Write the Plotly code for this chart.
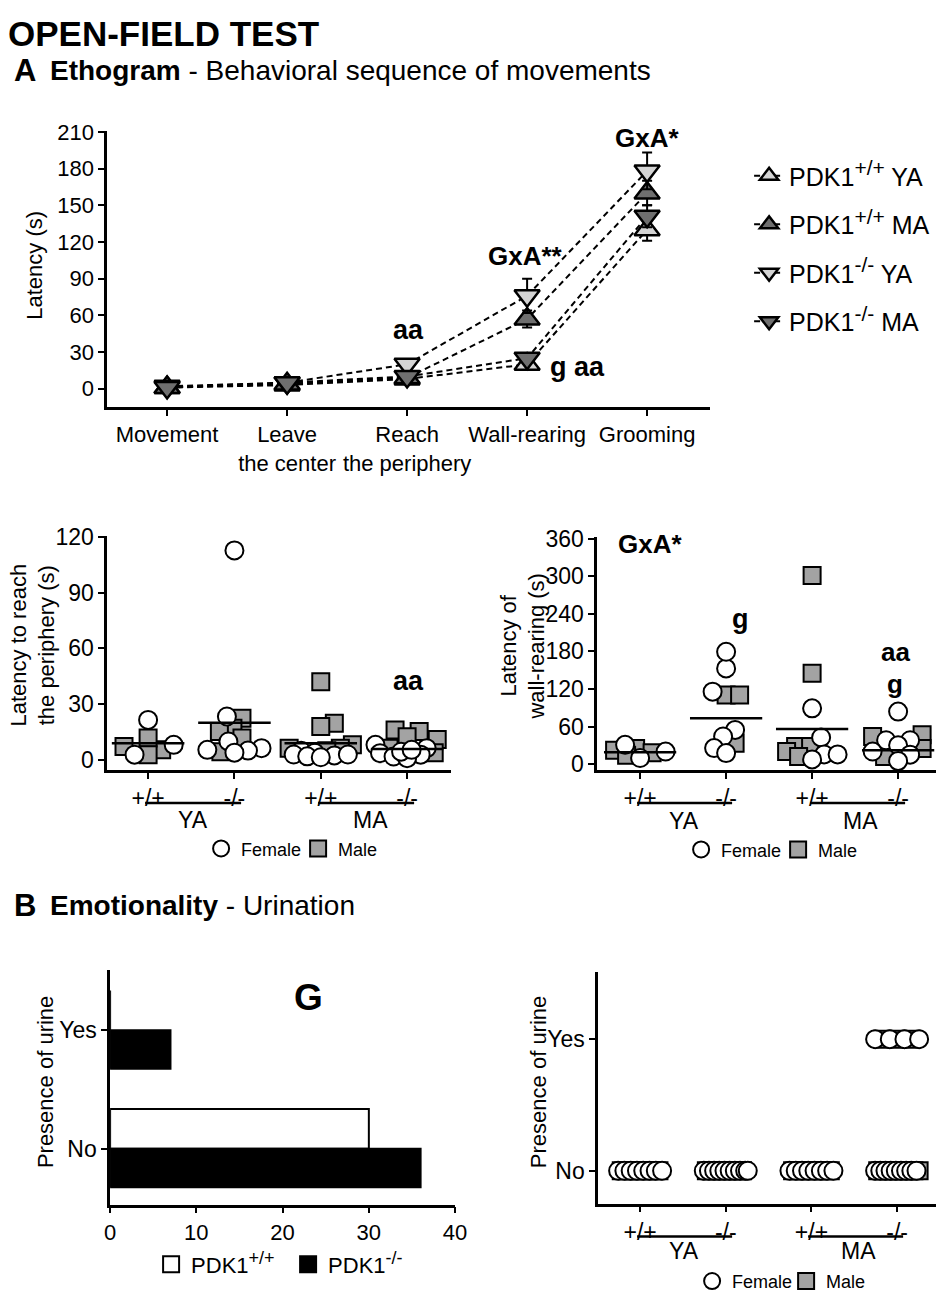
import numpy as np
import plotly.graph_objects as go

W, H = 948, 1300
FONT = "Liberation Sans, Arial, sans-serif"

# the photographed page is slightly scaled/offset; positions below are given in
# picture pixels and converted to page pixels here
SX, OX = 0.981, 5.9
SY, OY = 0.9855, 11.5


def pgx(t):
    return (t - OX) / SX


def pgy(t):
    return (t - OY) / SY


def X(t):
    return min(max(pgx(t) / W, 0.0), 1.0)


def Y(t):
    return min(max(1 - pgy(t) / H, 0.0), 1.0)


def lin_x(t_lo, t_hi, ta, va, tb, vb):
    d0, d1 = X(t_lo), X(t_hi)
    t0, t1 = OX + SX * d0 * W, OX + SX * d1 * W
    f = lambda t: va + (t - ta) * (vb - va) / (tb - ta)
    return dict(domain=[d0, d1], range=[f(t0), f(t1)])


def lin_y(t_bot, t_top, ta, va, tb, vb):
    d0, d1 = Y(t_bot), Y(t_top)
    t0, t1 = OY + SY * (1 - d0) * H, OY + SY * (1 - d1) * H
    f = lambda t: va + (t - ta) * (vb - va) / (tb - ta)
    return dict(domain=[d0, d1], range=[f(t0), f(t1)])


# ------------------------------------------------------------------ data
etho_steps = ["Movement", "Leave<br>the center", "Reach<br>the periphery",
              "Wall-rearing", "Grooming"]
SUP = '<sup><span style="font-size:21px">{}</span></sup>'
SUP2 = '<sup><span style="font-size:18px">{}</span></sup>'
etho_names = ["PDK1" + SUP.format("+/+") + " YA", "PDK1" + SUP.format("+/+") + " MA",
              "PDK1" + SUP.format("-/-") + " YA", "PDK1" + SUP.format("-/-") + " MA"]
etho_wt_ya = [1, 3, 8, 20, 130]
etho_wt_ma = [1, 4, 9, 57, 160]
etho_ko_ya = [2, 5, 20, 76, 178]
etho_ko_ma = [1, 5, 10, 25, 141]
etho_wt_ya_sem = [1, 1, 2, 3, 9]
etho_wt_ma_sem = [1, 1, 2, 7, 10]
etho_ko_ya_sem = [1, 1, 3, 14, 15]
etho_ko_ma_sem = [1, 1, 2, 4, 9]

genotype_ticks = ["+/+", "-/-", "+/+", "-/-"]
age_groups = ["YA", "MA"]

reach_female = [[21.6, 8.2, 2.9],
                [112.7, 23.4, 10.0, 6.4, 5.5, 5.1, 4.0],
                [5.0, 4.0, 3.0, 2.5, 2.0, 3.0, 1.5],
                [6.4, 8.2, 3.7, 1.9, 2.9, 1.0, 4.5, 5.5]]
reach_male = [[5.5, 11.8, 7.3, 2.9],
              [22.5, 17.1, 15.4, 11.8, 4.5],
              [42.1, 19.8, 18.0, 6.4, 8.2, 6.4, 5.0],
              [16.2, 15.4, 12.5, 11.0, 6.4, 4.0]]
reach_mean = [9, 20, 9, 6]

wall_female = [[30.8, 9.6, 20.0],
               [152.9, 179.4, 115.7, 54.6, 44.0, 25.5, 17.5],
               [89.0, 42.5, 15.4, 7.4, 15.4],
               [83.8, 38.0, 38.0, 30.0, 15.0, 5.0, 20.0]]
wall_male = [[22.0, 25.0, 18.0, 14.0],
             [110.4, 110.4, 33.4],
             [301.5, 145.0, 28.0, 20.0, 28.0, 12.0],
             [46.7, 44.0, 25.0, 12.0]]
wall_mean = [19, 73, 56, 22]

urine_levels = ["No", "Yes"]
urine_wt = [30, 0]
urine_ko = [36, 7]

urine_female_no = [8, 10, 8, 9]
urine_male_no = [7, 8, 7, 9]
urine_female_yes = [0, 0, 0, 4]
urine_male_yes = [0, 0, 0, 3]

# ------------------------------------------------------------------ helpers
LIGHT = "#d4d4d4"
DARK = "#6f6f6f"
MALE = "#a3a3a3"
CIRC = dict(symbol="circle", size=18, color="white", line=dict(color="black", width=2))
SQR = dict(symbol="square", size=17, color=MALE, line=dict(color="black", width=2))


def swarm(vals, ppu_y, ppu_x, min_d=13.0, step=1.5, max_off=32):
    vals = np.asarray(vals, float)
    order = np.argsort(vals)
    placed = []
    offs = np.zeros(len(vals))
    for k, i in enumerate(order):
        y = vals[i] * ppu_y
        signs = (1, -1) if k % 2 == 0 else (-1, 1)
        cands = [0.0] + [s * step * j for j in range(1, int(max_off / step) + 1) for s in signs]
        best, bestd, bc = None, -1, 0.0
        for c in cands:
            d = min((np.hypot(c - px, y - py) for px, py in placed), default=1e9)
            if d >= min_d:
                best = c
                break
            if d > bestd:
                bestd, bc = d, c
        if best is None:
            best = bc
        placed.append((best, y))
        offs[i] = best / ppu_x
    return offs


def axstyle(**kw):
    d = dict(showline=True, linecolor="black", linewidth=2.5, ticks="outside",
             ticklen=6, tickwidth=2, tickcolor="black", showgrid=False,
             zeroline=False, mirror=False, tickangle=0,
             tickfont=dict(size=22, color="black", family=FONT))
    d.update(kw)
    return d


fig = go.Figure()

# ------------------------------------------------------------------ ethogram
etho_sets = [(etho_wt_ya, etho_wt_ya_sem, "triangle-up", LIGHT),
             (etho_wt_ma, etho_wt_ma_sem, "triangle-up", DARK),
             (etho_ko_ya, etho_ko_ya_sem, "triangle-down", LIGHT),
             (etho_ko_ma, etho_ko_ma_sem, "triangle-down", DARK)]
for k, (vals, sem, sym, col) in enumerate(etho_sets):
    fig.add_trace(go.Scatter(
        x=list(range(len(etho_steps))), y=vals, mode="lines+markers",
        name=etho_names[k], legendgroup=f"e{k}", legend="legend",
        line=dict(color="black", width=2, dash="6px,4px"),
        marker=dict(symbol=sym, size=22, color=col, line=dict(color="black", width=2.5)),
        error_y=dict(type="data", array=sem, visible=True, color="black",
                     thickness=2, width=5),
        xaxis="x", yaxis="y"))


def legend_dummy(name, marker, legend_name, ax):
    fig.add_trace(go.Scatter(x=[None], y=[None], mode="markers", name=name,
                             legend=legend_name, marker=marker,
                             xaxis="x" + ax, yaxis="y" + ax))


# ------------------------------------------------------------------ dot plots
def dot_panel(fem, mal, means, ax, ppu_y, ppu_x, leg_f, leg_m):
    for g in range(len(fem)):
        allv = list(mal[g]) + list(fem[g])
        offs = swarm(allv, ppu_y, ppu_x)
        nm = len(mal[g])
        fig.add_trace(go.Scatter(
            x=g + offs[:nm], y=mal[g], mode="markers", name="Male",
            showlegend=False, marker=SQR,
            xaxis="x" + ax, yaxis="y" + ax))
        fig.add_trace(go.Scatter(
            x=g + offs[nm:], y=fem[g], mode="markers", name="Female",
            showlegend=False, marker=CIRC,
            xaxis="x" + ax, yaxis="y" + ax))
    mx, my = [], []
    for g, m in enumerate(means):
        mx += [g - 0.42, g + 0.42, None]
        my += [m, m, None]
    fig.add_trace(go.Scatter(x=mx, y=my, mode="lines", showlegend=False,
                             line=dict(color="black", width=2.5),
                             xaxis="x" + ax, yaxis="y" + ax))
    legend_dummy("Female", CIRC, leg_f, ax)
    legend_dummy("Male", SQR, leg_m, ax)


dot_panel(reach_female, reach_male, reach_mean, "2", 1.867, 86.0, "legend2", "legend3")
dot_panel(wall_female, wall_male, wall_mean, "3", 0.628, 86.0, "legend4", "legend5")

# ------------------------------------------------------------------ bar chart
fig.add_trace(go.Bar(y=list(range(len(urine_levels))), x=urine_wt, orientation="h",
                     name="PDK1<sup>+/+</sup>", showlegend=False,
                     offset=0, width=0.335,
                     marker=dict(color="white", line=dict(color="black", width=2)),
                     xaxis="x4", yaxis="y4"))
fig.add_trace(go.Bar(y=list(range(len(urine_levels))), x=urine_ko, orientation="h",
                     name="PDK1<sup>-/-</sup>", showlegend=False,
                     offset=-0.325, width=0.325,
                     marker=dict(color="black", line=dict(color="black", width=2)),
                     xaxis="x4", yaxis="y4"))
legend_dummy("PDK1" + SUP2.format("+/+"), dict(symbol="square", size=17, color="white",
                                               line=dict(color="black", width=2)), "legend6", "4")
legend_dummy("PDK1" + SUP2.format("-/-"), dict(symbol="square", size=17, color="black",
                                               line=dict(color="black", width=2)), "legend7", "4")

# ------------------------------------------------------------------ urine dots
HALF = 22.0 / 85.7
for g in range(4):
    for level, nf, nm in ((0, urine_female_no[g], urine_male_no[g]),
                          (1, urine_female_yes[g], urine_male_yes[g])):
        n = nf + nm
        if n == 0:
            continue
        pos = np.linspace(-HALF, HALF, n) if n > 1 else np.array([0.0])
        kinds = []
        fi, mi = 0, 0
        for j in range(n):
            if (j % 2 == 0 and fi < nf) or mi >= nm:
                kinds.append("F"); fi += 1
            else:
                kinds.append("M"); mi += 1
        xm = [g + p for p, kd in zip(pos, kinds) if kd == "M"]
        xf = [g + p for p, kd in zip(pos, kinds) if kd == "F"]
        fig.add_trace(go.Scatter(x=xm, y=[level] * len(xm), mode="markers",
                                 showlegend=False, marker=SQR,
                                 xaxis="x5", yaxis="y5"))
        fig.add_trace(go.Scatter(x=xf, y=[level] * len(xf), mode="markers",
                                 showlegend=False, marker=CIRC,
                                 xaxis="x5", yaxis="y5"))
legend_dummy("Female", CIRC, "legend8", "5")
legend_dummy("Male", SQR, "legend9", "5")

# ------------------------------------------------------------------ layout
TF = dict(size=23, color="black", family=FONT)
grp_ticks = dict(tickvals=list(range(4)), ticktext=genotype_ticks, tickfont=TF)


def hleg(tx, ty, size=18):
    return dict(x=X(tx), y=Y(ty), xanchor="left", yanchor="middle",
                orientation="h", font=dict(size=size, color="black", family=FONT),
                bgcolor="rgba(0,0,0,0)", itemwidth=30)


fig.update_layout(
    width=W, height=H, autosize=False,
    margin=dict(l=0, r=0, t=0, b=0),
    paper_bgcolor="white", plot_bgcolor="white",
    font=dict(family=FONT, color="black"),
    barmode="overlay",
    xaxis=axstyle(**lin_x(107, 710, 167, 0, 647, 4),
                  tickvals=list(range(5)), ticktext=etho_steps, anchor="y",
                  tickfont=dict(size=22, color="black", family=FONT)),
    yaxis=axstyle(**lin_y(408, 131, 389.5, 0, 131.7, 210),
                  tickvals=list(range(0, 211, 30)), anchor="x",
                  tickfont=dict(size=22, color="black", family=FONT)),
    xaxis2=axstyle(**lin_x(107, 451, 148, 0, 407, 3), anchor="y2", **grp_ticks),
    yaxis2=axstyle(**lin_y(772, 537, 762, 0, 538, 120),
                   tickvals=list(range(0, 121, 30)), anchor="x2", tickfont=TF),
    xaxis3=axstyle(**lin_x(597, 942, 640, 0, 898, 3), anchor="y3", **grp_ticks),
    yaxis3=axstyle(**lin_y(772, 538, 766, 0, 540, 360),
                   tickvals=list(range(0, 361, 60)), anchor="x3", tickfont=TF),
    xaxis4=axstyle(**lin_x(110, 455, 110, 0, 455, 40),
                   tickvals=list(range(0, 41, 10)), anchor="y4"),
    yaxis4=axstyle(**lin_y(1208, 973, 1152, 0, 1033, 1),
                   tickvals=[0, 1], ticktext=urine_levels, anchor="x4", tickfont=TF),
    xaxis5=axstyle(**lin_x(598, 940, 640, 0, 897, 3), anchor="y5", **grp_ticks),
    yaxis5=axstyle(**lin_y(1207, 975, 1174, 0, 1042, 1),
                   tickvals=[0, 1], ticktext=urine_levels, anchor="x5", tickfont=TF),
    legend=dict(x=X(749), y=Y(153), xanchor="left", yanchor="top",
                font=dict(size=25, color="black", family=FONT),
                tracegroupgap=13, bgcolor="rgba(0,0,0,0)"),
    legend2=hleg(201, 851), legend3=hleg(298, 851),
    legend4=hleg(681, 852), legend5=hleg(778, 852),
    legend6=hleg(151, 1268, 22), legend7=hleg(288, 1268, 22),
    legend8=hleg(692, 1285), legend9=hleg(786, 1285),
)

ann = []


def text(tx, ty, s, size, bold=False, xanchor="center", angle=0, yanchor="middle"):
    ann.append(dict(x=X(tx), y=Y(ty), xref="paper", yref="paper", showarrow=False,
                    text=f"<b>{s}</b>" if bold else s, xanchor=xanchor,
                    yanchor=yanchor, textangle=angle,
                    font=dict(size=size, color="black", family=FONT)))


text(0, 11.5, "OPEN-FIELD TEST", 35, bold=True, xanchor="left", yanchor="top")
text(12, 70, "A", 31, bold=True, xanchor="left")
text(48, 70, "<b>Ethogram</b> - Behavioral sequence of movements", 28, xanchor="left")
text(12, 908, "B", 31, bold=True, xanchor="left")
text(48, 908, "<b>Emotionality</b> - Urination", 28, xanchor="left")

text(35, 266, "Latency (s)", 22, angle=-90)
text(33, 647, "Latency to reach<br>the periphery (s)", 22, angle=-90)
text(523, 648, "Latency of<br>wall-rearing (s)", 22, angle=-90)
text(45, 1085, "Presence of urine", 22, angle=-90)
text(538, 1085, "Presence of urine", 22, angle=-90)

text(647, 138, "GxA*", 26, bold=True)
text(525, 256, "GxA**", 26, bold=True)
text(408, 331, "aa", 27, bold=True)
text(577, 368, "g aa", 27, bold=True)
text(408, 683, "aa", 27, bold=True)
text(650, 545, "GxA*", 26, bold=True)
text(740, 620, "g", 27, bold=True)
text(895, 654, "aa", 26, bold=True)
text(895, 686, "g", 26, bold=True)
text(308, 1000, "G", 37, bold=True)

for lab, cx in zip(age_groups, (193, 370)):
    text(cx, 822, lab, 23)
for lab, cx in zip(age_groups, (684, 860)):
    text(cx, 823, lab, 23)
for lab, cx in zip(age_groups, (684, 858)):
    text(cx, 1255, lab, 23)

shapes = []
for (x0, x1, yy) in [(145, 241, 805), (318, 414, 805), (637, 732, 805),
                     (810, 905, 805), (637, 732, 1240), (808, 903, 1240)]:
    shapes.append(dict(type="line", xref="paper", yref="paper",
                       x0=X(x0), x1=X(x1), y0=Y(yy), y1=Y(yy),
                       line=dict(color="black", width=2.5)))

fig.update_layout(annotations=ann, shapes=shapes)
fig.write_html("out.html", config={"displayModeBar": False},
               post_script="document.body.style.margin='0px';"
                           "document.body.style.overflow='hidden';")
